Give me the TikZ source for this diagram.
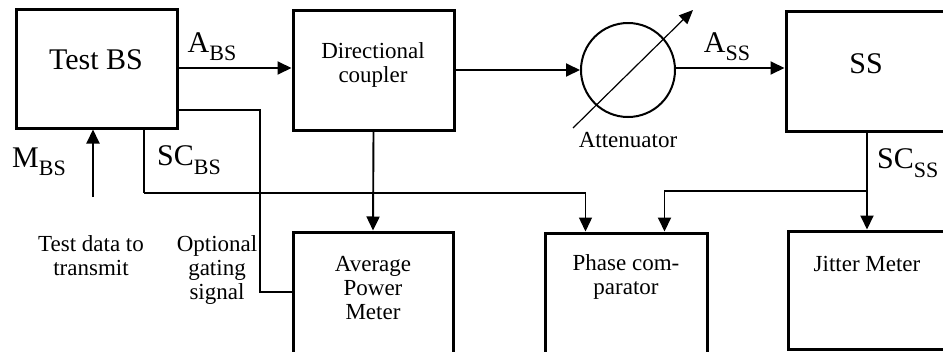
\documentclass[tikz,border=0pt]{standalone}
\usepackage{fontspec}
\setmainfont{Liberation Serif}
\usetikzlibrary{arrows.meta,calc}
\newcommand{\sbx}[1]{\raisebox{-0.28em}{\fontsize{22bp}{22bp}\selectfont #1}}
\tikzset{
  blk/.style={draw, line width=3bp, rectangle, inner sep=0pt},
  big/.style={font=\fontsize{30bp}{32bp}\selectfont, inner sep=0pt},
  small/.style={font=\fontsize{23bp}{24bp}\selectfont, align=center, inner sep=0pt},
  conn/.style={line width=1.9bp},
  arr/.style={conn, -{Triangle[length=14bp,width=13bp]}},
}
\begin{document}
\begin{tikzpicture}[x=1bp,y=-1bp]
\useasboundingbox (0,0) rectangle (943,351);
\clip (0,0) rectangle (943,351);
% boxes
\node[blk, minimum width=160bp, minimum height=119bp] (tbs) at (97,68.5) {};
\node[blk, minimum width=161bp, minimum height=120bp] (dc) at (373.5,70) {};
\node[blk, circle, minimum size=94bp, line width=2bp] (att) at (628,70) {};
\node[blk, minimum width=180bp, minimum height=120bp] (ss) at (876,71) {};
\node[blk, minimum width=160bp, minimum height=130bp] (apm) at (373,297) {};
\node[blk, minimum width=162bp, minimum height=130bp] (pc) at (626,298) {};
\node[blk, minimum width=180bp, minimum height=118bp] (jm) at (878,290) {};
% texts
\node[big] (tbst) at (96,60) {Test BS};
\node[big] (sst) at (866,64) {SS};
\node[small] (dct) at (373,65) {Directional\\coupler};
\node[small] (attt) at (628,140) {Attenuator};
\node[small] (apmt) at (373,288) {Average\\Power\\Meter};
\node[small] (pct) at (626,277) {Phase com-\\parator};
\node[small] (jmt) at (867,264) {Jitter Meter};
\node[small] (tdt) at (91,256) {Test data to\\transmit};
\node[small] (ogt) at (217,270) {Optional\\gating\\signal};
% labels
\node[big] (abs) at (212,47) {A\sbx{BS}};
\node[big] (ass) at (727,47) {A\sbx{SS}};
\node[big] (scbs) at (189,160) {SC\sbx{BS}};
\node[big] (mbs) at (39,162) {M\sbx{BS}};
\node[big, anchor=west] (scss) at (877,163) {SC\sbx{SS}};
% connectors
\draw[arr] (tbs.east |- 0,68) -- (dc.west |- 0,68);
\draw[arr] (dc.east) -- (att.west);
\draw[arr] (att.east |- 0,68) -- (ss.west |- 0,68);
\coordinate (d1) at (573,128);
\coordinate (d2) at (693,10);
\draw[line width=1.2bp, -{Triangle[length=14bp,width=12bp]}] (d1) -- (d2);
\draw[arr] (dc.south) -- (apm.north);
\coordinate (mb) at (93,197);
\draw[arr] (mb) -- (mb |- tbs.south);
\coordinate (g1) at (260,110);
\coordinate (g2) at (260,292);
\draw[conn] (g1 -| tbs.east) -- (g1) -- (g2) -- (g2 -| apm.west);
\coordinate (sb) at (144,193);
\coordinate (pc1) at ([xshift=42bp]pc.north west);
\draw[conn] (sb |- tbs.south) -- (sb);
\draw[arr, line width=1.4bp] (sb) -| (pc1);
\coordinate (sj) at (867,191);
\coordinate (pc2) at ([xshift=121bp]pc.north west);
\draw[arr] (sj |- ss.south) -- (sj |- jm.north);
\draw[arr] (sj) -| (pc2);
\end{tikzpicture}
\end{document}
